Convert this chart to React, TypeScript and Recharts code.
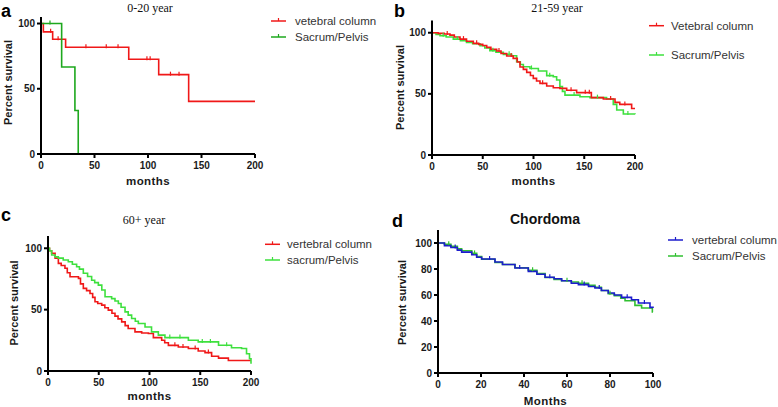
import React from "react";
import { LineChart, Line, XAxis, YAxis, Label } from "recharts";

// a: 0-20 year
const aVertTime = [0, 2.2, 10.9, 23, 82, 110, 138, 200];
const aVertSurv = [100, 93.6, 88, 81.8, 72.6, 60.8, 40.3, 40.3];
const aVertCensor = [9, 16, 42, 61, 72, 99, 102, 121, 129];
const aSacTime = [0, 19.3, 31.7, 34.8];
const aSacSurv = [100, 66.7, 33.3, 0];
const aSacCensor = [8.4];

// b: 21-59 year
const bVertTime = [0, 6, 12, 17.7, 22, 27.6, 34, 40.7, 46, 50, 53.9, 58, 63.7, 68, 73.6, 80, 84, 86.7, 90, 93.3, 97, 99.8, 103, 106.4, 113, 119.5, 126, 132.7, 142.5, 157, 168.8, 180.3, 185, 196.7, 200];
const bVertSurv = [100, 99.5, 99, 98, 96.5, 94.8, 93, 91.3, 90.5, 89.5, 88, 86.5, 85, 83, 81, 79, 76, 72, 70, 67.6, 65, 62.7, 60.5, 58.6, 56.4, 55, 54.5, 53, 51, 46.9, 45.8, 43, 41.4, 38, 38];
const bVertCensor = [15, 31, 44, 66, 78, 109, 137, 151, 155, 176, 190];
const bSacTime = [0, 4, 7.9, 14, 21, 28, 34, 40, 47.3, 52, 57, 63, 70.3, 78.5, 83.4, 87, 90, 96.5, 104.8, 113, 119.5, 122.8, 126, 128.5, 131, 145.8, 155.6, 172, 178.6, 182, 188.5, 200];
const bSacSurv = [100, 98.5, 97.5, 96.5, 94.8, 93.5, 92, 91, 89.4, 87.5, 85.3, 84, 82.3, 81.2, 76.3, 74, 72.2, 70.8, 68.7, 64.9, 64, 61.3, 55.9, 52, 49, 47.7, 46.9, 45.8, 41.4, 36.8, 33.5, 33.3];
const bSacCensor = [11, 25, 60, 76, 98, 116, 140, 163, 193];

// c: 60+ year
const cVertTime = [0, 1.5, 3.6, 7, 10.2, 13, 16.7, 19, 21.7, 30, 32, 34.8, 38, 41.4, 44, 46.3, 49, 52.9, 56, 59.4, 63, 66, 69, 72.6, 76, 79, 85.7, 92.3, 98.9, 103.8, 112, 115, 118.6, 128.4, 138.3, 148, 154.7, 161.2, 168, 177.7, 200];
const cVertSurv = [100, 98, 96, 92, 87.7, 86, 83.7, 80, 76.8, 75.5, 71, 67.3, 65.5, 63.2, 60, 56.4, 55, 53.7, 51.5, 49.6, 47, 44.7, 42.5, 40, 37, 34.6, 31.9, 31, 30.5, 27.2, 25, 23, 20.9, 19.6, 18.3, 16.3, 15, 12, 10.5, 8.5, 8.5];
const cVertCensor = [125, 133, 145, 158];
const cSacTime = [0, 1.5, 3.6, 7, 10.2, 15, 20, 24, 28.2, 31, 34.8, 39, 43, 46, 49.6, 53, 56.2, 62.7, 66, 69.3, 72, 75.9, 79, 82.4, 86, 89, 95.6, 102, 108.7, 115.2, 138.3, 148, 168, 180.8, 190.7, 195.6, 198.5, 200];
const cSacSurv = [100, 98, 94.5, 93, 92, 90.5, 89, 87, 85, 83, 79.6, 77, 74, 72, 70, 66, 60.5, 59, 57, 55, 52, 48.2, 45.5, 42.8, 40.5, 38.7, 35.9, 31.9, 29.2, 27.2, 25, 23.7, 21, 19, 18.3, 14, 10, 6];
const cSacCensor = [120, 130, 152, 160, 176];

// d: Chordoma
const dVertTime = [0, 3, 6, 9, 11, 15.7, 18, 20.3, 26.5, 30, 35.8, 42, 46, 49.8, 54, 57.5, 62, 65.3, 70, 73, 76, 79.2, 82, 85.4, 90, 93.2, 98.6, 100];
const dVertSurv = [100, 98, 96.5, 94.5, 93, 91, 89, 87.7, 85.4, 83.5, 80.8, 78.2, 76, 73.6, 72.5, 71, 69, 68, 66.5, 65.4, 63.5, 61.5, 60, 58.2, 56.4, 53.8, 50.5, 50];
const dVertCensor = [8, 24, 38, 52, 68, 75, 88, 96];
const dSacTime = [0, 3, 6, 9, 11, 15.7, 18, 20.3, 26.5, 30, 35.8, 42, 46, 49.8, 54, 57.5, 62, 65.3, 70, 73, 76, 79.2, 82, 85, 87, 91.6, 94.7, 99.7, 100];
const dSacSurv = [100, 99, 97.5, 95.5, 94, 92, 89.5, 87.5, 85, 83.5, 81, 79, 76.5, 73.5, 72, 71, 70, 69, 67.5, 66, 63.5, 61, 59.5, 57.5, 55.6, 52, 50, 47, 47];
const dSacCensor = [5, 17, 44, 60, 67, 80];

type Pt = { t: number; s: number; c?: boolean };

const km = (time: number[], surv: number[], censor: number[]): Pt[] => {
  const pts: Pt[] = time.map((t, i) => ({ t, s: surv[i] }));
  censor.forEach((t) => {
    let s = surv[0];
    time.forEach((tt, i) => {
      if (tt <= t) s = surv[i];
    });
    pts.push({ t, s, c: true });
  });
  return pts.sort((p, q) => p.t - q.t);
};

const RED = "#f01818";
const sans = "'Liberation Sans', Arial, sans-serif";
const serif = "'Liberation Serif', 'Times New Roman', serif";

// eslint-disable-next-line @typescript-eslint/no-explicit-any
const censorDot = (color: string) => (props: any) => {
  const { cx, cy, payload, index } = props;
  if (!payload || !payload.c) return <g key={index} />;
  return <line key={index} x1={cx} x2={cx} y1={cy - 3} y2={cy + 1} stroke={color} strokeWidth={1.2} />;
};

type Series = { pts: Pt[]; color: string };

type PanelProps = {
  left: number;
  top: number;
  width: number;
  height: number;
  margin: { top: number; right: number; bottom: number; left: number };
  yWidth: number;
  xHeight: number;
  xMax: number;
  xTicks: number[];
  yMax: number;
  yTicks: number[];
  xLabel: string;
  series: Series[];
};

const tickStyle = { fontSize: 10, fontWeight: 700, fill: "#1a1a1a", fontFamily: sans };

const Panel = (p: PanelProps) => (
  <div style={{ position: "absolute", left: p.left, top: p.top }}>
    <LineChart width={p.width} height={p.height} margin={p.margin}>
      <XAxis
        type="number"
        dataKey="t"
        domain={[0, p.xMax]}
        ticks={p.xTicks}
        height={p.xHeight}
        stroke="#000"
        strokeWidth={2}
        tickSize={4}
        tickMargin={4}
        tick={tickStyle}
      >
        <Label
          value={p.xLabel}
          position="insideBottom"
          offset={0}
          style={{ fontSize: 11.5, fontWeight: 700, fill: "#1a1a1a", fontFamily: sans, letterSpacing: 0.4 }}
        />
      </XAxis>
      <YAxis
        type="number"
        dataKey="s"
        domain={[0, p.yMax]}
        ticks={p.yTicks}
        width={p.yWidth}
        stroke="#000"
        strokeWidth={2}
        tickSize={4}
        tickMargin={2}
        tick={tickStyle}
      />
      {p.series.map((s, i) => (
        <Line
          key={i}
          data={s.pts}
          dataKey="s"
          type="stepAfter"
          stroke={s.color}
          strokeWidth={1.6}
          dot={censorDot(s.color)}
          activeDot={false}
          isAnimationActive={false}
        />
      ))}
    </LineChart>
  </div>
);

const LegendRow = (props: { x: number; y: number; color: string; text: string; textX: number }) => (
  <g>
    <line x1={props.x} x2={props.x + 15} y1={props.y} y2={props.y} stroke={props.color} strokeWidth={1.5} />
    <line x1={props.x + 7.5} x2={props.x + 7.5} y1={props.y - 3} y2={props.y} stroke={props.color} strokeWidth={1.2} />
    <text x={props.textX} y={props.y + 4} fontSize={11.5} fontFamily={sans} fill="#333">
      {props.text}
    </text>
  </g>
);

const YTitle = (props: { x: number; y: number }) => (
  <text
    x={props.x}
    y={props.y}
    transform={`rotate(-90, ${props.x}, ${props.y})`}
    textAnchor="middle"
    fontSize={11}
    fontWeight={700}
    fontFamily={sans}
    fill="#1a1a1a"
  >
    Percent survival
  </text>
);

const App = () => {
  return (
    <div style={{ position: "absolute", left: 0, top: 0, width: 778, height: 407, background: "#fff" }}>
      <Panel
        left={0}
        top={0}
        width={390}
        height={200}
        margin={{ top: 17, right: 135, bottom: 15, left: 0 }}
        yWidth={41}
        xHeight={31}
        xMax={200}
        xTicks={[0, 50, 100, 150, 200]}
        yMax={105}
        yTicks={[0, 50, 100]}
        xLabel="months"
        series={[
          { pts: km(aVertTime, aVertSurv, aVertCensor), color: RED },
          { pts: km(aSacTime, aSacSurv, aSacCensor), color: "#1ea81e" },
        ]}
      />
      <Panel
        left={390}
        top={0}
        width={388}
        height={200}
        margin={{ top: 20.5, right: 143, bottom: 15, left: 0 }}
        yWidth={42}
        xHeight={30}
        xMax={200}
        xTicks={[0, 50, 100, 150, 200]}
        yMax={110}
        yTicks={[0, 50, 100]}
        xLabel="months"
        series={[
          { pts: km(bSacTime, bSacSurv, bSacCensor), color: "#3ee03e" },
          { pts: km(bVertTime, bVertSurv, bVertCensor), color: RED },
        ]}
      />
      <Panel
        left={0}
        top={200}
        width={390}
        height={207}
        margin={{ top: 36, right: 139, bottom: 7, left: 0 }}
        yWidth={48}
        xHeight={29}
        xMax={200}
        xTicks={[0, 50, 100, 150, 200]}
        yMax={110}
        yTicks={[0, 50, 100]}
        xLabel="months"
        series={[
          { pts: km(cVertTime, cVertSurv, cVertCensor), color: RED },
          { pts: km(cSacTime, cSacSurv, cSacCensor), color: "#3ee03e" },
        ]}
      />
      <Panel
        left={390}
        top={200}
        width={388}
        height={207}
        margin={{ top: 30, right: 125, bottom: 2, left: 0 }}
        yWidth={48}
        xHeight={32}
        xMax={100}
        xTicks={[0, 20, 40, 60, 80, 100]}
        yMax={110}
        yTicks={[0, 20, 40, 60, 80, 100]}
        xLabel="Months"
        series={[
          { pts: km(dSacTime, dSacSurv, dSacCensor), color: "#30c030" },
          { pts: km(dVertTime, dVertSurv, dVertCensor), color: "#1c1ccc" },
        ]}
      />
      <svg width={778} height={407} style={{ position: "absolute", left: 0, top: 0, pointerEvents: "none" }}>
        <g fontFamily={sans} fontWeight={700} fontSize={18} fill="#000">
          <text x={1} y={16.5}>a</text>
          <text x={394} y={16.5}>b</text>
          <text x={1} y={221}>c</text>
          <text x={392} y={227}>d</text>
        </g>
        <g fontFamily={serif} fontSize={12} fill="#111" textAnchor="middle">
          <text x={150} y={12}>0-20 year</text>
          <text x={557} y={12}>21-59 year</text>
          <text x={144} y={224}>60+ year</text>
        </g>
        <text x={545} y={224} textAnchor="middle" fontFamily={sans} fontWeight={700} fontSize={14} fill="#111">
          Chordoma
        </text>
        <YTitle x={11.5} y={82.5} />
        <YTitle x={404} y={87.5} />
        <YTitle x={18} y={303} />
        <YTitle x={406} y={302.5} />
        <LegendRow x={271} y={21} color={RED} text="vetebral column" textX={295} />
        <LegendRow x={271} y={37} color="#1ea81e" text="Sacrum/Pelvis" textX={295} />
        <LegendRow x={649} y={25.7} color={RED} text="Vetebral column" textX={671} />
        <LegendRow x={649} y={55} color="#3ee03e" text="Sacrum/Pelvis" textX={671} />
        <LegendRow x={265} y={244.3} color={RED} text="vertebral column" textX={287} />
        <LegendRow x={265} y={260} color="#3ee03e" text="sacrum/Pelvis" textX={287} />
        <LegendRow x={668} y={240} color="#1c1ccc" text="vertebral column" textX={692} />
        <LegendRow x={668} y={256} color="#30c030" text="Sacrum/Pelvis" textX={692} />
      </svg>
    </div>
  );
};

export default App;
